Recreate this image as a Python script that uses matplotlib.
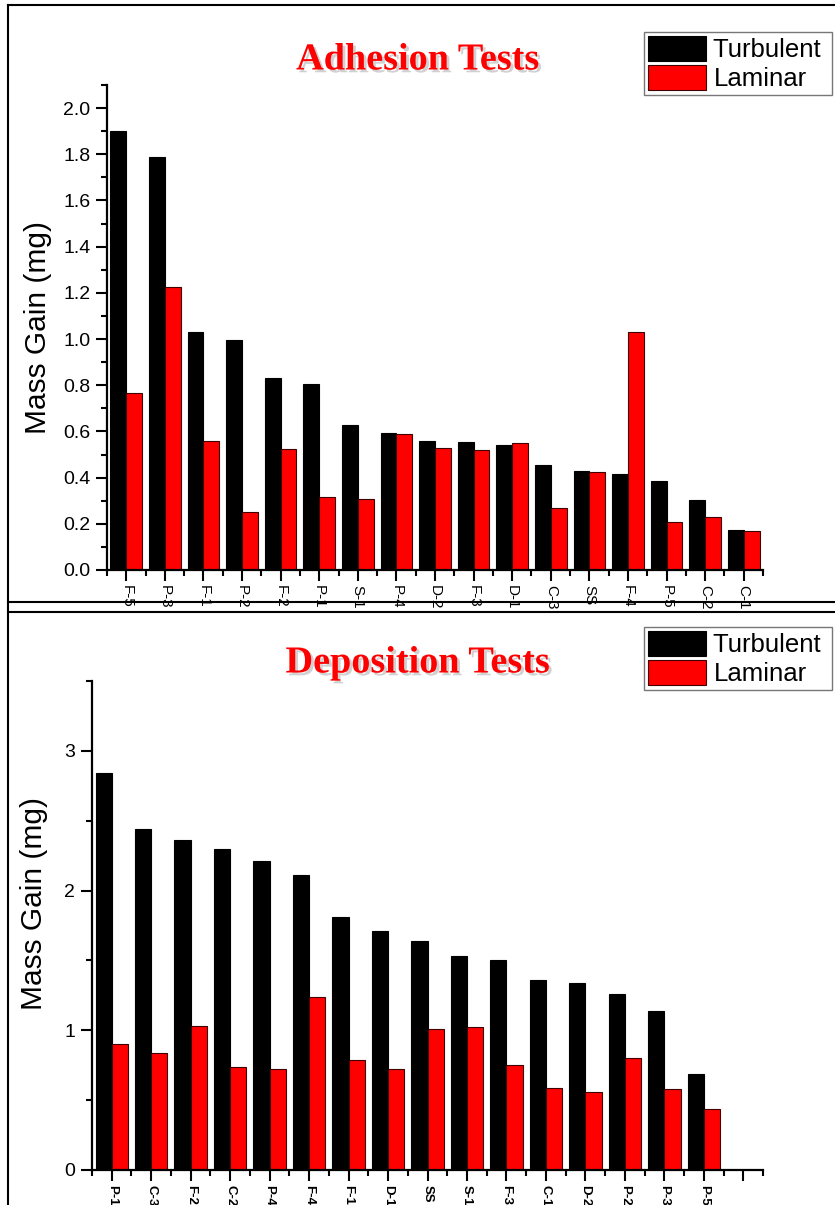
import matplotlib
matplotlib.use("Agg")
import matplotlib.pyplot as plt
import matplotlib.patheffects as pe
from matplotlib.lines import Line2D
from matplotlib.ticker import MultipleLocator, FixedLocator, FormatStrFormatter
import numpy as np

plt.rcParams['font.family'] = ['Liberation Sans', 'DejaVu Sans']

# Adhesion tests (mg)
adh_samples = ['F-5', 'P-3', 'F-1', 'P-2', 'F-2', 'P-1', 'S-1', 'P-4', 'D-2',
               'F-3', 'D-1', 'C-3', 'SS', 'F-4', 'P-5', 'C-2', 'C-1']
adh_turbulent = [1.90, 1.79, 1.03, 0.995, 0.83, 0.805, 0.627, 0.595, 0.558,
                 0.556, 0.54, 0.454, 0.43, 0.415, 0.385, 0.305, 0.173]
adh_laminar = [0.765, 1.224, 0.558, 0.251, 0.525, 0.316, 0.307, 0.59, 0.53,
               0.52, 0.55, 0.268, 0.425, 1.03, 0.208, 0.229, 0.17]

# Deposition tests (mg)
dep_samples = ['P-1', 'C-3', 'F-2', 'C-2', 'P-4', 'F-4', 'F-1', 'D-1', 'SS',
               'S-1', 'F-3', 'C-1', 'D-2', 'P-2', 'P-3', 'P-5']
dep_turbulent = [2.84, 2.44, 2.36, 2.30, 2.21, 2.11, 1.81, 1.71, 1.64,
                 1.53, 1.50, 1.36, 1.34, 1.26, 1.14, 0.69]
dep_laminar = [0.90, 0.84, 1.03, 0.74, 0.72, 1.24, 0.79, 0.72, 1.01,
               1.02, 0.75, 0.59, 0.56, 0.80, 0.58, 0.44]

W, H = 835, 1205
fig = plt.figure(figsize=(W / 100, H / 100), dpi=100)

ax1 = fig.add_axes([107 / W, 1 - 570 / H, (763 - 107) / W, (570 - 85) / H])
ax2 = fig.add_axes([92 / W, 1 - 1170 / H, (763 - 92) / W, (1170 - 681) / H])

bar_w = 0.41


def draw_panel(ax, samples, turb, lam, n_slots, tick_size, tick_weight):
    x = np.arange(len(samples))
    ax.bar(x - bar_w / 2, turb, bar_w, color='black', edgecolor='black',
           linewidth=0.8, label='Turbulent ')
    ax.bar(x + bar_w / 2, lam, bar_w, color='#ff0000', edgecolor='#400000',
           linewidth=0.8, label='Laminar')
    ax.set_xlim(-0.5, n_slots - 0.5)
    ax.xaxis.set_major_locator(FixedLocator(np.arange(n_slots)))
    ax.xaxis.set_minor_locator(FixedLocator(np.arange(n_slots + 1) - 0.5))
    labels = list(samples) + [''] * (n_slots - len(samples))
    ax.set_xticklabels(labels, rotation=-90, fontsize=tick_size,
                       fontweight=tick_weight)
    for side in ('top', 'right'):
        ax.spines[side].set_visible(False)
    for side in ('left', 'bottom'):
        ax.spines[side].set_linewidth(1.6)
    ax.tick_params(which='major', direction='out', length=8, width=1.5,
                   labelsize=14, pad=4)
    ax.tick_params(which='minor', direction='out', length=4, width=1.5)
    ax.tick_params(axis='x', which='major', labelsize=tick_size, pad=3)
    ax.set_ylabel('Mass Gain (mg)', fontsize=21.5, labelpad=8)
    leg = ax.legend(loc='upper right', fontsize=18.5, frameon=True,
                    fancybox=False, borderpad=0.15, labelspacing=0.12,
                    handlelength=2.25, handleheight=1.1, handletextpad=0.3,
                    borderaxespad=0)
    leg.get_frame().set_edgecolor('#555555')
    leg.get_frame().set_linewidth(1.0)
    return leg


leg1 = draw_panel(ax1, adh_samples, adh_turbulent, adh_laminar, 17, 11, 'normal')
ax1.set_ylim(0, 2.1)
ax1.yaxis.set_major_locator(MultipleLocator(0.2))
ax1.yaxis.set_minor_locator(MultipleLocator(0.1))
ax1.yaxis.set_major_formatter(FormatStrFormatter('%.1f'))
leg1.set_bbox_to_anchor((832 / W, 1 - 32 / H), transform=fig.transFigure)

leg2 = draw_panel(ax2, dep_samples, dep_turbulent, dep_laminar, 17, 9.5, 'bold')
ax2.set_ylim(0, 3.5)
ax2.yaxis.set_major_locator(MultipleLocator(1))
ax2.yaxis.set_minor_locator(MultipleLocator(0.5))
ax2.yaxis.set_label_coords(-0.065, 0.545)
leg2.set_bbox_to_anchor((832 / W, 1 - 627 / H), transform=fig.transFigure)

# panel titles with a soft drop shadow
for txt, ypix in (('Adhesion Tests', 60), ('Deposition Tests', 663)):
    fig.text(0.5, 1 - ypix / H, txt, ha='center', va='center', color='#ff0000',
             fontsize=27.5, fontweight='bold', family='Liberation Serif',
             path_effects=[pe.withSimplePatchShadow(offset=(2, -2),
                                                    shadow_rgbFace='#999999',
                                                    alpha=0.45)])

# frame lines around the two panels
frame_kw = dict(color='black', linewidth=1.5, transform=fig.transFigure)
fig.add_artist(Line2D([8 / W, 1], [1 - 5 / H, 1 - 5 / H], **frame_kw))
fig.add_artist(Line2D([8 / W, 8 / W], [1 - 5 / H, 0], **frame_kw))
fig.add_artist(Line2D([8 / W, 1], [1 - 602 / H, 1 - 602 / H], **frame_kw))
fig.add_artist(Line2D([8 / W, 1], [1 - 612 / H, 1 - 612 / H], **frame_kw))

fig.savefig('out.png', dpi=100)
